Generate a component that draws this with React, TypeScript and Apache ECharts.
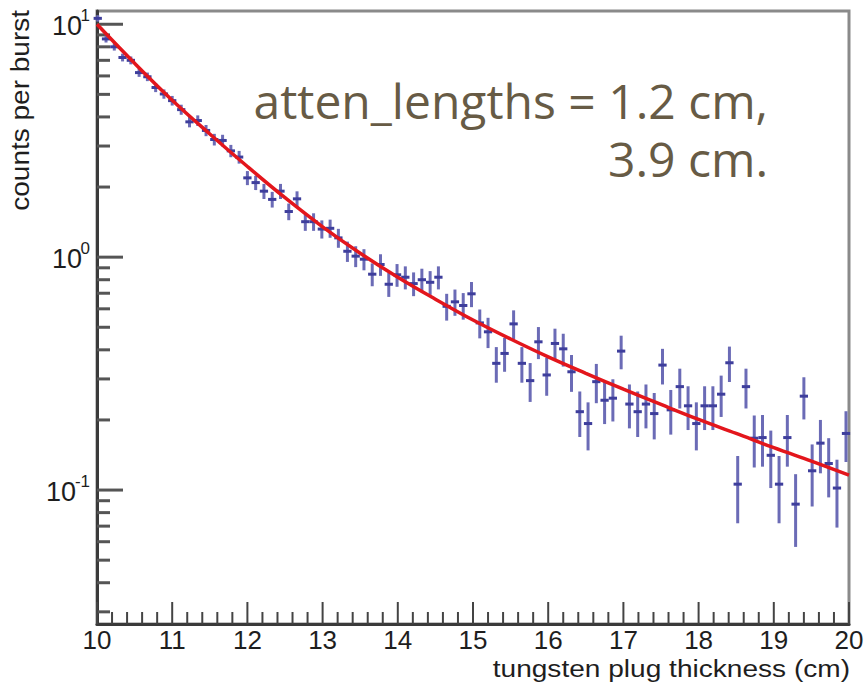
import React, { useEffect, useRef } from "react";
import * as echarts from "echarts";

// ---- data ----
const X_VALUES = [
  10.01, 10.12, 10.23, 10.34, 10.45, 10.56, 10.67, 10.78, 10.89, 11.0,
  11.12, 11.23, 11.34, 11.45, 11.56, 11.67, 11.78, 11.89, 12.0, 12.11,
  12.22, 12.33, 12.44, 12.55, 12.66, 12.77, 12.88, 12.99, 13.1, 13.21,
  13.33, 13.44, 13.55, 13.66, 13.77, 13.88, 13.99, 14.1, 14.21, 14.32,
  14.43, 14.54, 14.65, 14.76, 14.87, 14.98, 15.09, 15.2, 15.31, 15.42,
  15.54, 15.65, 15.76, 15.87, 15.98, 16.09, 16.2, 16.31, 16.42, 16.53,
  16.64, 16.75, 16.86, 16.97, 17.08, 17.19, 17.3, 17.41, 17.52, 17.63,
  17.75, 17.86, 17.97, 18.08, 18.19, 18.3, 18.41, 18.52, 18.63, 18.74,
  18.85, 18.96, 19.07, 19.18, 19.29, 19.4, 19.51, 19.62, 19.73, 19.84,
  19.96,
];
const Y_VALUES = [
  10.6, 8.65, 8.0, 7.2, 7.0, 6.2, 5.95, 5.35, 5.02, 4.7,
  4.3, 3.81, 3.86, 3.5, 3.2, 3.17, 2.86, 2.69, 2.19, 2.09,
  1.92, 1.77, 1.92, 1.57, 1.78, 1.42, 1.42, 1.32, 1.33, 1.21,
  1.06, 1.01, 0.98, 0.845, 0.93, 0.765, 0.84, 0.82, 0.77, 0.8,
  0.78, 0.82, 0.615, 0.643, 0.62, 0.696, 0.522, 0.478, 0.35, 0.386,
  0.517, 0.35, 0.295, 0.433, 0.312, 0.426, 0.404, 0.322, 0.217, 0.193,
  0.292, 0.243, 0.248, 0.395, 0.234, 0.217, 0.234, 0.213, 0.344, 0.221,
  0.278, 0.23, 0.193, 0.23, 0.23, 0.258, 0.352, 0.106, 0.278, 0.167,
  0.168, 0.141, 0.106, 0.168, 0.087, 0.253, 0.121, 0.159, 0.13, 0.102,
  0.175,
];
const Y_ERRORS = [
  0.335, 0.303, 0.291, 0.276, 0.273, 0.256, 0.251, 0.238, 0.231, 0.223,
  0.214, 0.201, 0.202, 0.193, 0.184, 0.183, 0.174, 0.169, 0.152, 0.149,
  0.143, 0.137, 0.143, 0.129, 0.137, 0.123, 0.123, 0.118, 0.119, 0.113,
  0.106, 0.104, 0.102, 0.095, 0.099, 0.09, 0.094, 0.093, 0.09, 0.092,
  0.091, 0.093, 0.081, 0.083, 0.081, 0.086, 0.074, 0.071, 0.061, 0.064,
  0.074, 0.061, 0.056, 0.068, 0.058, 0.067, 0.065, 0.058, 0.048, 0.045,
  0.056, 0.051, 0.051, 0.065, 0.05, 0.048, 0.05, 0.048, 0.06, 0.048,
  0.054, 0.049, 0.045, 0.049, 0.049, 0.052, 0.061, 0.034, 0.054, 0.042,
  0.042, 0.039, 0.034, 0.042, 0.03, 0.052, 0.036, 0.041, 0.037, 0.033,
  0.043,
];
const FIT_X = [10, 10.5, 11, 11.5, 12, 12.5, 13, 13.5, 14, 14.5, 15, 15.5, 16, 16.5, 17, 17.5, 18, 18.5, 19, 19.5, 20];
const FIT_Y = [10.0, 6.8, 4.72, 3.38, 2.45, 1.8, 1.35, 1.04, 0.82, 0.66, 0.537, 0.445, 0.373, 0.317, 0.271, 0.233, 0.201, 0.175, 0.152, 0.133, 0.116];

const Y_DECADES = [0.1, 1, 10];
const Y_DECADE_EXPONENTS = ["-1", "0", "1"];
const X_TICK_LABELS = ["10", "11", "12", "13", "14", "15", "16", "17", "18", "19", "20"];
const ANNOTATION_LINES = ["atten_lengths = 1.2 cm,", "3.9 cm."];
const X_AXIS_NAME = "tungsten plug thickness (cm)";
const Y_AXIS_NAME = "counts per burst";

const X_MIN = 10;
const X_MAX = 20;
const Y_MIN = 0.0266;
const Y_MAX = 11.4;
const HALF_BIN = 0.055;

const FONT = "'Liberation Sans', Arial, sans-serif";

export default function App() {
  const ref = useRef<HTMLDivElement>(null);

  useEffect(() => {
    if (!ref.current) return;
    const chart = echarts.init(ref.current, undefined, { renderer: "svg" });

    const points = X_VALUES.map((x, i) => [x, Y_VALUES[i], Y_ERRORS[i]]);
    const fit = FIT_X.map((x, i) => [x, FIT_Y[i]]);

    // axis tick marks (axis structure)
    const ticks: number[][] = [];
    const decadesAll = [0.01, ...Y_DECADES];
    decadesAll.forEach((d) => {
      if (d >= Y_MIN && d <= Y_MAX) ticks.push([X_MIN, d, 0]);
      for (let m = 2; m <= 9; m++) {
        const v = d * m;
        if (v >= Y_MIN && v <= Y_MAX) ticks.push([X_MIN, v, 1]);
      }
    });
    X_TICK_LABELS.forEach((s) => ticks.push([Number(s), Y_MIN, 2]));
    for (let i = 0; i < X_TICK_LABELS.length - 1; i++) {
      const a = Number(X_TICK_LABELS[i]);
      for (let j = 1; j < 5; j++) ticks.push([a + j * 0.2, Y_MIN, 3]);
    }

    const option: any = {
      animation: false,
      backgroundColor: "#ffffff",
      grid: {
        left: 97,
        top: 11,
        right: 18,
        bottom: 59,
        show: true,
        borderColor: "#8a8a8a",
        borderWidth: 3,
        backgroundColor: "transparent",
      },
      xAxis: {
        type: "value",
        min: X_MIN,
        max: X_MAX,
        interval: 1,
        axisLine: { show: true, onZero: false, lineStyle: { color: "#3a3a3a", width: 3 } },
        axisTick: { show: false },
        splitLine: { show: false },
        axisLabel: {
          show: true,
          fontSize: 26,
          lineHeight: 22,
          fontFamily: FONT,
          color: "#1e1e1e",
          margin: 5,
          formatter: (v: number) => String(Math.round(v)),
        },
      },
      yAxis: {
        type: "log",
        logBase: 10,
        min: Y_MIN,
        max: Y_MAX,
        axisLine: { show: true, lineStyle: { color: "#3a3a3a", width: 3 } },
        axisTick: { show: false },
        splitLine: { show: false },
        axisLabel: { show: false },
      },
      series: [
        {
          type: "custom",
          name: "ticks",
          coordinateSystem: "cartesian2d",
          clip: false,
          z: 1,
          encode: { x: 0, y: 1 },
          data: ticks,
          renderItem: (params: any, api: any) => {
            const x = api.value(0);
            const y = api.value(1);
            const kind = api.value(2);
            if (kind === 0 || kind === 1) {
              const p = api.coord([X_MIN, y]);
              const len = kind === 0 ? 26 : 13;
              const children: any[] = [
                {
                  type: "line",
                  shape: { x1: p[0], y1: p[1], x2: p[0] + len, y2: p[1] },
                  style: { stroke: "#555555", lineWidth: 3 },
                },
              ];
              if (kind === 0) {
                const idx = Y_DECADES.findIndex((d) => Math.abs(d - y) < d * 1e-6);
                if (idx >= 0) {
                  const exp = Y_DECADE_EXPONENTS[idx];
                  const supW = exp.length > 1 ? 15 : 9;
                  const supRight = p[0] - 7;
                  children.push({
                    type: "text",
                    x: supRight,
                    y: p[1] - 9,
                    style: {
                      text: exp,
                      fontSize: 17,
                      fontFamily: FONT,
                      fill: "#1e1e1e",
                      align: "right",
                      verticalAlign: "middle",
                    },
                  });
                  children.push({
                    type: "text",
                    x: supRight - supW + 1,
                    y: p[1] + 2,
                    style: {
                      text: "10",
                      fontSize: 27,
                      fontFamily: FONT,
                      fill: "#1e1e1e",
                      align: "right",
                      verticalAlign: "middle",
                    },
                  });
                }
              }
              return { type: "group", children };
            }
            const p = api.coord([x, Y_MIN]);
            const len = kind === 2 ? 22 : 12;
            return {
              type: "line",
              shape: { x1: p[0], y1: p[1], x2: p[0], y2: p[1] - len },
              style: { stroke: "#444444", lineWidth: 2 },
            };
          },
        },
        {
          type: "custom",
          name: "data",
          coordinateSystem: "cartesian2d",
          z: 2,
          encode: { x: 0, y: 1 },
          data: points,
          renderItem: (params: any, api: any) => {
            const x = api.value(0);
            const y = api.value(1);
            const e = api.value(2);
            const top = api.coord([x, y + e]);
            const bot = api.coord([x, y - e]);
            const l = api.coord([x - HALF_BIN, y]);
            const r = api.coord([x + HALF_BIN, y]);
            return {
              type: "group",
              children: [
                {
                  type: "line",
                  shape: { x1: top[0], y1: top[1], x2: bot[0], y2: bot[1] },
                  style: { stroke: "#6b6bb6", lineWidth: 3 },
                },
                {
                  type: "line",
                  shape: { x1: l[0], y1: l[1], x2: r[0], y2: r[1] },
                  style: { stroke: "#3e3e9c", lineWidth: 3 },
                },
              ],
            };
          },
        },
        {
          type: "line",
          name: "fit",
          data: fit,
          smooth: 0.4,
          symbol: "none",
          z: 3,
          lineStyle: { color: "#e3161c", width: 3.5 },
        },
      ],
      graphic: [
        {
          type: "text",
          x: 768,
          y: 100,
          style: {
            text: ANNOTATION_LINES[0],
            fontSize: 48,
            fontFamily: "'Open Sans', sans-serif",
            fill: "#675b45",
            align: "right",
            verticalAlign: "middle",
          },
        },
        {
          type: "text",
          x: 768,
          y: 158,
          style: {
            text: ANNOTATION_LINES[1],
            fontSize: 48,
            fontFamily: "'Open Sans', sans-serif",
            fill: "#675b45",
            align: "right",
            verticalAlign: "middle",
          },
        },
        {
          type: "text",
          x: 850,
          y: 669,
          scaleX: 1.17,
          style: {
            text: X_AXIS_NAME,
            fontSize: 24,
            lineHeight: 24,
            fontFamily: FONT,
            fill: "#1e1e1e",
            align: "right",
            verticalAlign: "middle",
          },
        },
        {
          type: "text",
          x: 21,
          y: 10,
          rotation: Math.PI / 2,
          scaleX: 1.12,
          style: {
            text: Y_AXIS_NAME,
            fontSize: 25,
            fontFamily: FONT,
            fill: "#1e1e1e",
            align: "right",
            verticalAlign: "middle",
          },
        },
      ],
    };

    chart.setOption(option);
    return () => chart.dispose();
  }, []);

  return (
    <div
      ref={ref}
      style={{ position: "absolute", left: 0, top: 0, width: 867, height: 683, background: "#fff" }}
    />
  );
}
